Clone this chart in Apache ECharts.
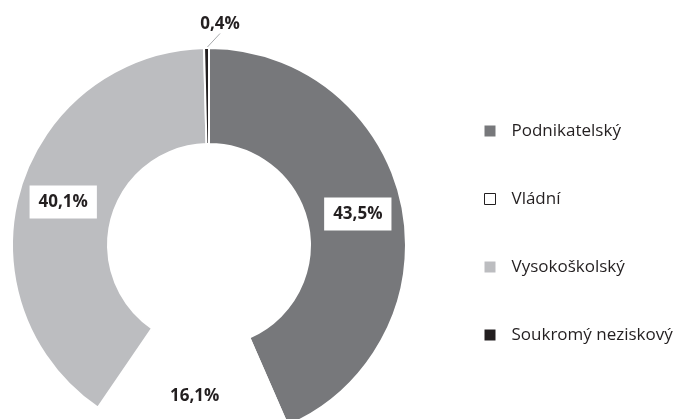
<!DOCTYPE html>
<html>
<head>
<meta charset="utf-8">
<script src="https://cdn.jsdelivr.net/npm/echarts@6/dist/echarts.min.js"></script>
<style>
  html, body { margin: 0; padding: 0; background: #fff; }
  #chart { width: 679px; height: 419px; }
</style>
</head>
<body>
<div id="chart"></div>
<script>
// sektory a podíly (%)
const sectors = ['Podnikatelský', 'Vládní', 'Vysokoškolský', 'Soukromý neziskový'];
const shares = [43.5, 16.1, 40.1, 0.4];
const colors = ['#77787b', '#ffffff', '#bcbdc0', '#231f20'];

const chart = echarts.init(document.getElementById('chart'));

const fmt = v => v.toFixed(1).replace('.', ',') + '%';

chart.setOption({
  backgroundColor: '#fff',
  animation: false,
  legend: {
    orient: 'vertical',
    left: 479,
    top: 116,
    itemWidth: 11,
    itemHeight: 11,
    itemGap: 48,
    icon: 'rect',
    textStyle: {
      fontFamily: 'Open Sans', fontSize: 17, lineHeight: 20,
      color: '#231f20', padding: [0, 0, 0, 11]
    },
    data: sectors.map((s, i) => ({
      name: s,
      itemStyle: i === 1
        ? { color: '#fff', borderColor: '#231f20', borderWidth: 1 }
        : { color: colors[i], borderWidth: 0 }
    }))
  },
  series: [{
    type: 'pie',
    center: [209, 245],
    radius: [101, 197],
    startAngle: 90,
    clockwise: true,
    avoidLabelOverlap: false,
    itemStyle: { borderColor: '#fff', borderWidth: 2 },
    label: {
      show: true,
      position: 'inside',
      formatter: p => fmt(p.value),
      fontFamily: 'Open Sans',
      fontWeight: 'bold',
      fontSize: 17,
      lineHeight: 19,
      color: '#231f20',
      backgroundColor: '#fff',
      padding: [7, 9]
    },
    labelLayout: p => p.dataIndex === 3
      ? { x: 220, y: 24, align: 'center', verticalAlign: 'middle' }
      : {},
    data: sectors.map((s, i) => {
      const d = { name: s, value: shares[i], itemStyle: { color: colors[i] } };
      if (i === 3) {
        d.label = { position: 'outside', backgroundColor: 'transparent', padding: 0 };
        d.labelLine = { show: true, length: 10, length2: 0, lineStyle: { color: '#a7a9ac', width: 1 } };
      }
      return d;
    })
  }]
});
</script>
</body>
</html>
